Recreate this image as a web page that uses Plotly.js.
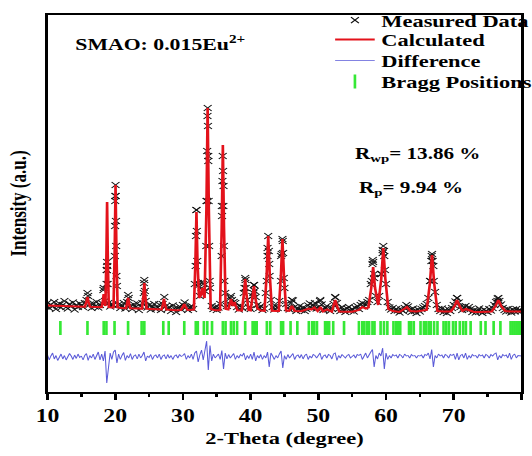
<!DOCTYPE html>
<html>
<head>
<meta charset="utf-8">
<script src="https://cdn.plot.ly/plotly-3.0.1.min.js"></script>
<style>
html,body{margin:0;padding:0;background:#fff;overflow:hidden;}
#wrap{width:532px;height:456px;overflow:hidden;}
#chart{width:403px;height:456px;transform:scaleX(1.32);transform-origin:0 0;}
</style>
</head>
<body>
<div id="wrap"><div id="chart"></div></div>
<script>
// ---------- DATA (arbitrary intensity units) ----------
// Measured data on a regular 0.25 deg grid starting at 10 deg
const measStart = 10;
const measStep = 0.25;
const measY = [
  230,180,215,195,240,170,205,225,185,210,250,190,175,220,200,235,165,210,190,225,
  205,190,230,260,300,215,180,225,195,240,185,210,230,360,250,560,230,195,215,210,
  1250,400,215,180,205,230,175,240,280,200,170,215,190,225,160,200,230,430,250,185,
  210,165,195,220,170,185,215,160,220,290,200,170,190,150,205,175,140,180,195,165,
  210,235,190,160,185,200,170,420,1160,430,300,380,420,350,1250,1700,380,200,170,190,
  160,185,220,1200,1400,330,200,230,280,260,240,230,190,165,200,180,330,460,260,190,
  170,300,410,290,210,180,200,160,175,330,780,620,260,190,165,200,180,250,700,850,
  380,220,180,165,230,255,190,150,175,200,160,185,150,170,205,225,180,210,230,175,
  190,250,215,160,180,200,165,150,175,220,285,230,170,150,185,160,140,175,190,155,
  170,145,180,200,170,210,230,195,215,240,260,420,620,520,300,240,300,520,760,700,
  420,240,185,165,180,150,170,155,135,165,150,180,210,195,160,140,175,150,130,165,
  145,170,185,200,220,280,450,700,600,340,210,170,150,175,140,160,130,165,150,180,
  210,245,280,235,190,160,185,200,165,190,170,140,160,135,150,175,145,130,165,150,
  140,170,155,180,210,240,275,250,215,180,160,145,170,150,135,165,145,170,150,160,
  150
];
// Extra measured points on the steep peak flanks
const measPeakX = [15.9,18.3,18.72,18.76,18.8,18.84,18.88,
  19.95,19.98,20.02,20.05,20.08,20.11,20.14,20.18,21.9,24.22,24.3,24.38,
  31.88,31.93,32.0,32.06,32.12,32.2,32.85,
  33.45,33.52,33.58,33.63,33.66,33.7,33.75,33.8,33.87,33.95,
  35.72,35.78,35.84,35.88,35.93,35.98,36.05,36.12,37.1,
  39.1,39.2,39.3,40.4,40.5,40.6,
  42.4,42.5,42.6,42.7,42.8,44.5,44.6,44.7,44.8,44.9,46.1,50.3,52.5,
  57.9,58.05,58.1,58.25,59.35,59.5,59.6,59.7,59.85,
  66.55,66.7,66.8,66.9,67.05,70.5,76.45,76.6];
const measPeakY = [330,380,420,560,640,600,420,
  700,1000,1300,1410,1300,1050,800,500,310,330,460,350,
  600,900,1160,950,650,400,440,
  800,1250,1750,2100,2180,2000,1650,1250,800,450,
  700,1100,1450,1700,1550,1200,800,450,300,
  380,480,380,330,410,350,
  450,700,900,750,500,450,720,870,730,480,260,260,290,
  450,660,640,480,520,730,800,750,560,
  450,650,720,650,450,280,250,280];

// Calculated profile (vertices of the fitted curve)
const calcX = [10,12,14,
  15.52,15.75,15.9,16.05,16.28,17.5,
  18.0,18.18,18.3,18.42,18.55,18.7,18.8,18.9,19.05,19.5,
  19.75,19.93,20.05,20.17,20.35,21.0,
  21.58,21.77,21.9,22.03,22.22,23.5,
  23.95,24.16,24.3,24.44,24.65,26.0,
  26.85,27.06,27.2,27.34,27.55,29.0,
  29.7,30.0,30.2,30.4,30.7,31.3,
  31.62,31.85,32.0,32.15,32.38,32.6,32.75,32.85,32.95,33.2,
  33.47,33.65,33.83,34.1,34.8,
  35.48,35.73,35.9,36.07,36.32,
  36.7,36.9,37.1,37.3,37.4,37.6,37.8,38.05,38.6,
  38.7,39.0,39.2,39.4,39.7,
  40.0,40.3,40.5,40.7,41.0,41.5,
  42.05,42.38,42.6,42.82,43.15,43.8,
  44.15,44.48,44.7,44.92,45.25,45.7,46.1,46.5,
  47.5,48.6,49.0,49.4,49.9,50.3,50.7,51.3,51.8,
  52.0,52.25,52.5,52.75,53.1,54,55,56,56.5,57.0,
  57.4,57.82,58.1,58.38,58.85,59.3,59.6,59.9,60.35,
  61,62,63.1,63.6,64.5,65.5,66.0,
  66.48,66.8,67.12,67.6,68.5,
  69.6,70.15,70.5,70.85,71.3,71.8,72.3,73,74,75,
  75.6,76.2,76.6,77.0,77.6,78.5,80];
const calcY = [205,200,196,
  192,241,290,241,192,190,
  188,254,320,254,200,714,1240,714,188,186,
  185,798,1410,798,185,180,
  178,229,280,229,178,174,
  172,301,430,301,172,168,
  165,218,270,218,165,158,
  160,190,220,190,160,163,
  165,653,1140,653,280,300,340,380,340,280,
  1170,2180,1170,170,158,
  158,984,1810,984,170,
  165,214,270,214,200,240,199,158,156,
  155,312,470,312,160,
  155,278,400,278,175,155,
  152,526,900,526,152,150,
  150,510,870,510,155,152,200,150,
  148,175,165,185,150,190,145,165,145,
  143,201,260,201,145,142,142,160,190,175,
  185,380,590,380,210,472,780,472,170,
  150,140,190,150,145,150,160,
  425,710,425,150,145,
  145,200,260,200,150,170,160,140,140,145,
  145,201,260,201,150,145,145];

// Difference curve on the same 0.25 deg grid
const diffY = [
  -290,-340,-300,-270,-330,-295,-345,-310,-280,-330,-295,-340,-315,-275,-300,-335,-290,-325,-280,-315,
  -300,-340,-295,-275,-345,-295,-320,-280,-335,-300,-260,-340,-280,-350,-250,-570,-360,-270,-335,-260,
  -240,-370,-280,-335,-295,-265,-345,-295,-320,-275,-335,-300,-290,-330,-280,-320,-295,-260,-350,-300,
  -315,-285,-335,-300,-290,-320,-280,-335,-300,-290,-330,-285,-320,-295,-335,-300,-290,-320,-285,-305,
  -295,-275,-335,-295,-320,-280,-335,-270,-250,-360,-290,-240,-340,-215,-150,-440,-195,-350,-280,-320,
  -300,-280,-335,-245,-430,-270,-330,-285,-320,-295,-275,-335,-295,-320,-285,-300,-270,-340,-295,-325,
  -280,-335,-260,-350,-295,-320,-285,-335,-295,-320,-260,-410,-270,-300,-335,-295,-320,-280,-250,-420,
  -295,-335,-285,-320,-295,-275,-335,-300,-290,-320,-285,-330,-295,-280,-335,-300,-320,-285,-295,-320,
  -295,-270,-335,-300,-290,-320,-285,-295,-330,-280,-270,-345,-295,-320,-285,-300,-320,-295,-285,-320,
  -300,-290,-320,-285,-295,-280,-335,-295,-270,-320,-280,-260,-235,-410,-295,-330,-270,-300,-220,-430,
  -270,-335,-295,-320,-285,-300,-290,-320,-285,-295,-320,-280,-300,-295,-320,-285,-300,-295,-320,-295,
  -300,-290,-320,-285,-295,-270,-330,-235,-410,-295,-320,-280,-300,-290,-320,-285,-295,-320,-285,-295,
  -280,-335,-270,-340,-295,-285,-320,-270,-335,-295,-320,-285,-300,-295,-320,-285,-300,-290,-320,-285,
  -295,-320,-285,-300,-280,-270,-340,-295,-320,-285,-300,-290,-320,-270,-335,-295,-280,-320,-295,-300,
  -300
];

// Bragg reflection positions (2-theta, degrees)
const braggPos = [11.9,15.9,18.3,18.7,19.9,21.9,23.9,24.3,27.1,27.9,30.2,31.9,32.2,33.1,33.6,34.3,
  35.9,36.3,37.1,37.5,38.0,39.2,40.3,40.5,40.7,40.9,42.4,42.9,44.5,44.8,45.9,46.9,
  48.6,49.1,49.4,49.8,51.0,51.3,51.6,52.2,53.8,56.0,56.5,56.8,57.2,57.5,58.0,58.3,
  59.2,59.7,60.2,61.1,61.5,61.8,62.1,63.4,63.7,64.1,65.1,65.6,65.9,66.3,66.6,67.1,67.6,
  68.5,68.9,69.3,69.9,70.3,70.9,71.4,71.8,72.5,74.0,74.7,75.9,76.9,78.4,78.7,79.0,79.3,79.6,79.9];
const braggLevel = -20;

const xTicks = [10,20,30,40,50,60,70,80];
const sampleLabel = 'SMAO: 0.015Eu<sup>2+</sup>';
const rwpLabel = 'R<sub>wp</sub>= 13.86 %';
const rpLabel = 'R<sub>p</sub>= 9.94 %';

// ---------- PLOT ----------
const FONT = 'Liberation Serif, Times New Roman, serif';
const crossMarker = {symbol:'x-thin', size:6, color:'#111', line:{width:1, color:'#111'}};

const traces = [
  {type:'scatter', mode:'markers', name:'Measured Data', legendgroup:'meas', legend:'legend',
   x0:measStart, dx:measStep, y:measY, marker:crossMarker},
  {type:'scatter', mode:'markers', name:'Measured Data', legendgroup:'meas', showlegend:false,
   x:measPeakX, y:measPeakY, marker:crossMarker},
  {type:'scatter', mode:'lines', name:'Calculated', legend:'legend2', x:calcX, y:calcY,
   line:{color:'#e3121b', width:2}},
  {type:'scatter', mode:'lines', name:'Difference', legend:'legend3', x0:measStart, dx:measStep, y:diffY,
   line:{color:'#5a5ad8', width:0.8}},
  {type:'scatter', mode:'markers', name:'Bragg Positions', legend:'legend4', x:braggPos,
   y:braggPos.map(() => braggLevel),
   marker:{symbol:'line-ns', size:10, line:{width:2, color:'#35e835'}, color:'#35e835'}}
];

function legendAt(yTop) {
  return {x:0.593, xanchor:'left', yref:'container', y:yTop, yanchor:'top', bgcolor:'rgba(0,0,0,0)',
          borderwidth:0, font:{family:FONT, size:17, color:'#000', weight:'bold'}, tracegroupgap:0, itemwidth:30};
}

const layout = {
  width:403, height:456,
  margin:{l:35.6, r:8.3, t:15, b:64, autoexpand:false},
  paper_bgcolor:'#fff', plot_bgcolor:'#fff',
  font:{family:FONT, color:'#000'},
  showlegend:true,
  legend:legendAt(0.9945),
  legend2:legendAt(0.952),
  legend3:legendAt(0.906),
  legend4:legendAt(0.860),
  xaxis:{range:[10,80], tickvals:xTicks, ticks:'outside', ticklen:6, tickwidth:2, tickcolor:'#000',
         showline:true, linewidth:2, linecolor:'#000', mirror:true, showgrid:false, zeroline:false,
         tickfont:{family:FONT, size:18, color:'#000', weight:'bold'},
         minor:{dtick:5, tick0:5, ticks:'outside', ticklen:3, tickwidth:2, tickcolor:'#000', showgrid:false},
         title:{text:'2-Theta (degree)', font:{family:FONT, size:17, color:'#000', weight:'bold'}, standoff:8}},
  yaxis:{range:[-660,3110], showticklabels:false, ticks:'', showline:true, linewidth:2, linecolor:'#000',
         mirror:true, showgrid:false, zeroline:false,
         title:{text:'Intensity (a.u.)', font:{family:FONT, size:17, color:'#000', weight:'bold'}, standoff:9}},
  annotations:[
    {xref:'paper', yref:'paper', x:0.053, y:0.925, xanchor:'left', yanchor:'middle', showarrow:false,
     text:sampleLabel, font:{family:FONT, size:16.5, color:'#000', weight:'bold'}},
    {xref:'paper', yref:'paper', x:0.781, y:0.629, xanchor:'center', yanchor:'middle', showarrow:false,
     text:rwpLabel, font:{family:FONT, size:16, color:'#000', weight:'bold'}},
    {xref:'paper', yref:'paper', x:0.768, y:0.541, xanchor:'center', yanchor:'middle', showarrow:false,
     text:rpLabel, font:{family:FONT, size:16, color:'#000', weight:'bold'}}
  ]
};

Plotly.newPlot('chart', traces, layout, {displayModeBar:false, staticPlot:true});
</script>
</body>
</html>
